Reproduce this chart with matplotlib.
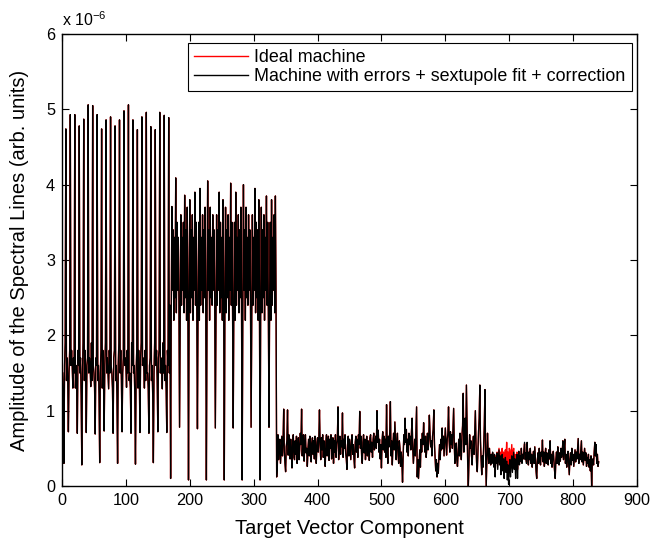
import numpy as np
import matplotlib
matplotlib.use("Agg")
import matplotlib.pyplot as plt

# ---------------------------------------------------------
# Spectral line amplitudes (units of 1e-6)
# 840 target vector components = 5 blocks of 168
# ---------------------------------------------------------

# block 1: components 1..168 (7 per cell)
seg1 = [
    1.5, 1.2, 0.30, 1.6, 1.9, 4.74, 1.4,
    1.7, 1.4, 0.72, 1.5, 1.8, 4.93, 1.6,
    1.8, 1.6, 1.30, 1.7, 1.5, 4.93, 1.3,
    1.6, 1.3, 0.70, 1.8, 1.6, 4.78, 1.5,
    1.7, 1.2, 0.28, 1.5, 1.9, 4.87, 1.4,
    1.8, 1.5, 0.71, 1.6, 1.7, 5.06, 1.5,
    1.7, 1.6, 1.32, 1.9, 1.4, 5.05, 1.6,
    1.5, 1.3, 0.69, 1.7, 1.6, 4.93, 1.4,
    1.6, 1.2, 0.31, 1.5, 1.8, 4.74, 1.3,
    1.8, 1.4, 0.73, 1.6, 1.9, 4.86, 1.5,
    1.7, 1.5, 1.29, 1.8, 1.5, 4.90, 1.6,
    1.5, 1.3, 0.70, 1.7, 1.8, 4.78, 1.4,
    1.6, 1.2, 0.30, 1.6, 1.9, 4.86, 1.5,
    1.8, 1.4, 0.72, 1.5, 1.7, 4.98, 1.6,
    1.7, 1.6, 1.31, 1.8, 1.5, 5.06, 1.4,
    1.5, 1.3, 0.70, 1.9, 1.6, 4.86, 1.5,
    1.6, 1.2, 0.29, 1.5, 1.8, 4.73, 1.3,
    1.8, 1.5, 0.71, 1.7, 1.9, 4.90, 1.6,
    1.7, 1.6, 1.30, 1.8, 1.4, 4.96, 1.5,
    1.5, 1.3, 0.70, 1.6, 1.7, 4.77, 1.4,
    1.6, 1.2, 0.31, 1.5, 1.9, 4.73, 1.6,
    1.8, 1.4, 0.72, 1.7, 1.8, 4.96, 1.5,
    1.7, 1.6, 1.29, 1.9, 1.5, 4.92, 1.4,
    1.6, 1.3, 0.71, 1.8, 1.6, 4.89, 1.5,
]

# block 2: components 169..336
seg2 = [
    2.4, 0.10, 2.3, 3.71, 2.6, 3.4, 2.2, 3.3, 2.5, 4.09, 2.3, 3.5, 2.6, 3.3,
    2.5, 0.78, 2.2, 3.6, 2.4, 3.3, 2.6, 3.5, 2.3, 3.86, 2.5, 3.4, 2.2, 3.7,
    2.6, 0.08, 2.4, 3.8, 2.3, 3.4, 2.5, 3.6, 2.2, 3.3, 2.6, 3.9, 2.4, 3.5,
    2.3, 0.76, 2.5, 3.5, 2.2, 3.95, 2.4, 3.3, 2.6, 3.6, 2.3, 3.4, 2.5, 3.7,
    2.4, 0.08, 2.3, 4.05, 2.6, 3.4, 2.2, 3.7, 2.5, 3.3, 2.4, 3.6, 2.6, 3.4,
    2.5, 0.77, 2.2, 3.6, 2.4, 3.4, 2.6, 3.9, 2.3, 3.5, 2.5, 3.3, 2.2, 3.8,
    2.6, 0.08, 2.4, 3.7, 2.3, 3.4, 2.5, 3.6, 2.2, 3.3, 2.6, 4.02, 2.4, 3.5,
    2.3, 0.77, 2.5, 3.5, 2.2, 3.9, 2.4, 3.3, 2.6, 3.6, 2.3, 3.4, 2.5, 3.7,
    2.4, 0.08, 2.3, 4.0, 2.6, 3.4, 2.2, 3.7, 2.5, 3.3, 2.4, 3.6, 2.6, 3.4,
    2.5, 0.78, 2.2, 3.6, 2.4, 3.3, 2.6, 3.95, 2.3, 3.5, 2.5, 3.4, 2.2, 3.8,
    2.6, 0.08, 2.4, 3.7, 2.3, 3.4, 2.5, 3.6, 2.2, 3.3, 2.6, 3.85, 2.4, 3.5,
    2.3, 0.78, 2.5, 3.5, 2.2, 3.8, 2.4, 3.3, 2.6, 3.6, 2.3, 3.85, 2.5, 0.12,
]

# block 3: components 337..504
seg3 = [
    0.26, 0.68, 0.35, 0.55, 0.62, 0.30, 0.48, 0.66, 0.40, 0.58, 1.02, 0.45, 0.30, 0.19,
    0.52, 0.60, 1.01, 0.41, 0.68, 0.50, 0.36, 0.62, 0.45, 0.24, 0.55, 0.68, 0.38, 0.35,
    0.60, 0.42, 0.66, 0.30, 0.52, 0.64, 0.35, 0.48, 0.70, 0.55, 1.02, 0.40, 0.62, 0.68,
    0.33, 0.56, 0.68, 0.44, 0.50, 0.26, 0.50, 0.62, 0.40, 0.66, 0.58, 0.32, 0.55, 0.64,
    0.42, 0.60, 0.36, 0.66, 0.50, 0.30, 0.58, 0.64, 0.45, 0.62, 1.01, 0.55, 0.35, 0.64,
    0.48, 0.68, 0.38, 0.60, 0.45, 0.26, 0.58, 0.68, 0.40, 0.56, 0.66, 0.34, 0.62, 0.50,
    0.68, 0.36, 0.52, 0.64, 0.30, 0.60, 0.45, 0.68, 0.38, 0.55, 0.62, 1.05, 0.35, 0.58,
    0.66, 0.42, 0.60, 0.52, 0.97, 0.38, 0.62, 0.50, 0.68, 0.44, 0.36, 0.22, 0.55, 0.66,
    0.40, 0.62, 0.48, 0.35, 0.60, 0.68, 0.42, 0.55, 0.36, 0.24, 0.58, 0.66, 0.45, 0.62,
    0.38, 0.68, 0.55, 0.99, 0.50, 0.66, 0.40, 0.30, 0.58, 0.68, 0.44, 0.62, 0.35, 0.56,
    0.66, 0.40, 0.60, 0.52, 0.34, 0.64, 0.68, 0.45, 0.58, 0.38, 0.62, 0.70, 0.48, 0.56,
    0.66, 0.50, 1.00, 0.58, 0.74, 0.45, 0.62, 0.36, 0.55, 0.24, 0.60, 0.72, 0.48, 0.66,
]

# block 4: components 505..672
seg4 = [
    0.45, 0.62, 0.38, 1.08, 0.50, 0.30, 0.66, 0.52, 0.72, 1.12, 0.40, 0.60, 0.28, 0.55,
    0.70, 0.48, 0.85, 0.62, 0.35, 0.58, 0.70, 0.42, 0.30, 0.60, 0.50, 0.26, 0.45, 0.32,
    0.05, 0.40, 0.68, 0.55, 0.90, 0.58, 0.75, 0.45, 0.62, 0.40, 0.70, 0.55, 0.66, 0.48,
    0.72, 0.90, 0.50, 0.30, 0.45, 0.62, 0.40, 0.75, 1.05, 0.12, 0.35, 0.10, 0.30, 0.48,
    0.25, 0.62, 0.45, 0.70, 0.55, 0.84, 0.60, 0.45, 0.66, 0.38, 0.50, 0.70, 0.48, 0.62,
    0.94, 0.70, 0.52, 0.60, 0.40, 0.66, 0.75, 1.01, 0.55, 0.38, 0.20, 0.35, 0.12, 0.30,
    0.17, 0.40, 0.55, 0.35, 0.62, 0.48, 0.77, 0.50, 0.66, 0.40, 0.60, 0.77, 0.58, 0.41,
    0.62, 0.70, 1.05, 0.60, 0.45, 0.72, 0.55, 0.68, 0.50, 0.75, 1.03, 0.55, 0.30, 0.48,
    0.57, 0.35, 0.26, 0.45, 0.62, 0.40, 0.70, 0.55, 0.35, 0.66, 0.80, 1.23, 0.45, 0.62,
    0.90, 0.55, 1.34, 0.80, 0.30, 0.00, 0.35, 0.68, 0.50, 0.60, 0.40, 0.28, 0.55, 0.66,
    0.42, 0.70, 1.00, 0.55, 0.30, 0.19, 0.45, 0.72, 0.90, 1.34, 0.60, 0.35, 0.15, 0.40,
    0.25, 0.55, 0.80, 1.28, 0.45, 0.00, 0.35, 0.70, 0.45, 0.30, 0.50, 0.36, 0.28, 0.42,
]

# block 5: components 673..840, machine with errors
seg5_err = [
    0.30, 0.45, 0.36, 0.25, 0.42, 0.12, 0.38, 0.30, 0.44, 0.22, 0.35, 0.48, 0.28, 0.40,
    0.15, 0.34, 0.42, 0.20, 0.36, 0.10, 0.30, 0.38, 0.18, 0.33, 0.08, 0.28, 0.02, 0.25,
    0.35, 0.12, 0.30, 0.40, 0.18, 0.32, 0.45, 0.22, 0.36, 0.10, 0.30, 0.42, 0.10, 0.35,
    0.46, 0.28, 0.40, 0.33, 0.50, 0.30, 0.42, 0.36, 0.48, 0.58, 0.35, 0.44, 0.30, 0.58,
    0.40, 0.28, 0.45, 0.35, 0.50, 0.30, 0.42, 0.25, 0.38, 0.46, 0.30, 0.52, 0.35, 0.20,
    0.10, 0.33, 0.44, 0.30, 0.50, 0.36, 0.28, 0.45, 0.40, 0.61, 0.32, 0.45, 0.26, 0.40,
    0.50, 0.30, 0.44, 0.35, 0.28, 0.48, 0.36, 0.60, 0.30, 0.42, 0.25, 0.38, 0.46, 0.32,
    0.20, 0.10, 0.35, 0.45, 0.30, 0.52, 0.36, 0.28, 0.44, 0.33, 0.50, 0.38, 0.45, 0.60,
    0.35, 0.50, 0.62, 0.30, 0.42, 0.25, 0.38, 0.46, 0.30, 0.15, 0.36, 0.44, 0.28, 0.50,
    0.34, 0.42, 0.26, 0.38, 0.48, 0.32, 0.45, 0.36, 0.50, 0.63, 0.30, 0.42, 0.35, 0.48,
    0.60, 0.32, 0.45, 0.28, 0.40, 0.50, 0.34, 0.44, 0.26, 0.38, 0.30, 0.42, 0.25, 0.35,
    0.20, 0.40, 0.00, 0.30, 0.36, 0.28, 0.45, 0.58, 0.40, 0.55, 0.30, 0.42, 0.26, 0.32,
]

# block 5, ideal machine: differs from the errors case on components 673..728
seg5_ideal_start = [
    0.32, 0.44, 0.38, 0.28, 0.40, 0.18, 0.40, 0.33, 0.45, 0.28, 0.40, 0.50, 0.35, 0.45,
    0.30, 0.42, 0.50, 0.32, 0.45, 0.30, 0.42, 0.48, 0.35, 0.58, 0.30, 0.45, 0.25, 0.50,
    0.48, 0.28, 0.42, 0.55, 0.32, 0.45, 0.50, 0.30, 0.42, 0.25, 0.38, 0.45, 0.22, 0.40,
    0.46, 0.30, 0.40, 0.35, 0.50, 0.32, 0.42, 0.36, 0.48, 0.56, 0.36, 0.44, 0.32, 0.56,
]

machine_errors = seg1 + seg2 + seg3 + seg4 + seg5_err
ideal_machine = seg1 + seg2 + seg3 + seg4 + seg5_ideal_start + seg5_err[len(seg5_ideal_start):]

x_ticks = [0, 100, 200, 300, 400, 500, 600, 700, 800, 900]
y_ticks = [0, 1, 2, 3, 4, 5, 6]

LABEL_IDEAL = "Ideal machine"
LABEL_ERR = "Machine with errors + sextupole fit + correction"

plt.rcParams['font.family'] = ['Liberation Sans', 'DejaVu Sans']
plt.rcParams['mathtext.fontset'] = 'custom'
plt.rcParams['mathtext.rm'] = 'Liberation Sans'
plt.rcParams['mathtext.it'] = 'Liberation Sans:italic'

fig = plt.figure(figsize=(6.52, 5.43), dpi=100)
ax = fig.add_axes([62 / 652, 57 / 543, 575 / 652, 452 / 543])

comp = np.arange(1, len(machine_errors) + 1)
ax.plot(comp, ideal_machine, color='#ff0000', lw=1.0, label=LABEL_IDEAL)
ax.plot(comp, machine_errors, color='black', lw=0.95, label=LABEL_ERR)

ax.set_xlim(0, 900)
ax.set_ylim(0, 6)
ax.set_xticks(x_ticks)
ax.set_yticks(y_ticks)
ax.tick_params(direction='in', length=5, width=0.8, top=True, right=True,
               labelsize=11.7, pad=5)
for s in ax.spines.values():
    s.set_linewidth(1.0)

ax.set_xlabel('Target Vector Component', fontsize=14.5, labelpad=8)
ax.set_ylabel('Amplitude of the Spectral Lines (arb. units)', fontsize=14.5, labelpad=12)
ax.text(0.0, 1.012, r'x 10$^{-6}$', transform=ax.transAxes, fontsize=11.5,
        ha='left', va='bottom')

leg = ax.legend(loc='upper right', bbox_to_anchor=(632 / 652, 1 - 43 / 543),
                bbox_transform=fig.transFigure, fontsize=12.9, frameon=True,
                fancybox=False, framealpha=1, edgecolor='black', borderpad=0.35,
                labelspacing=0.1, handlelength=3.0, handletextpad=0.35,
                borderaxespad=0)
leg.get_frame().set_linewidth(0.8)
for h in leg.get_lines():
    h.set_linewidth(1.0)

fig.savefig('out.png', dpi=100)
